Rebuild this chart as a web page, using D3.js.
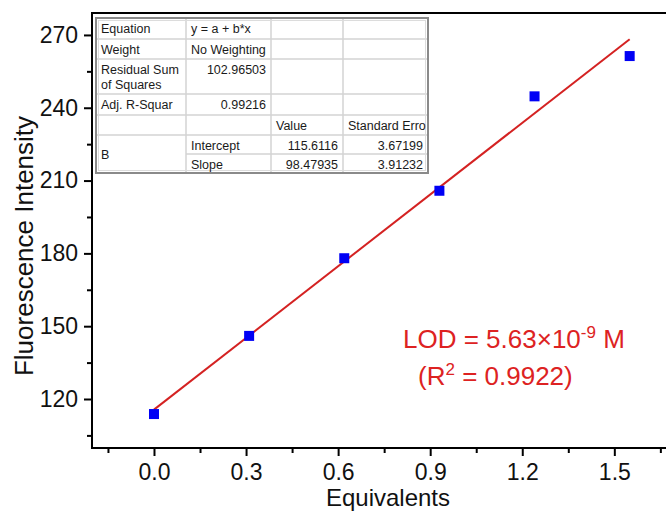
<!DOCTYPE html>
<html>
<head>
<meta charset="utf-8">
<script src="https://cdn.jsdelivr.net/npm/d3@7"></script>
<style>
  html, body { margin: 0; padding: 0; background: #fff; }
  svg { display: block; font-family: "Liberation Sans", Arial, sans-serif; }
</style>
</head>
<body>
<svg id="chart" width="666" height="514"></svg>
<script>
// ---- data ----
const xValues = [0, 0.31, 0.62, 0.93, 1.24, 1.55];
const yValues = [113.8, 146.0, 178.0, 205.8, 244.7, 261.3];
const fitIntercept = 115.6116;
const fitSlope = 98.47935;
const xTickValues = [0.0, 0.3, 0.6, 0.9, 1.2, 1.5];
const xMinorTicks = [-0.15, 0.15, 0.45, 0.75, 1.05, 1.35, 1.65];
const yTickValues = [120, 150, 180, 210, 240, 270];
const yMinorTicks = [105, 135, 165, 195, 225, 255];
const xTitle = "Equivalents";
const yTitle = "Fluorescence Intensity";
const tableRows = [
  ["Equation", "y = a + b*x", "", ""],
  ["Weight", "No Weighting", "", ""],
  ["Residual Sum|of Squares", "102.96503", "", ""],
  ["Adj. R-Squar", "0.99216", "", ""],
  ["", "", "Value", "Standard Erro"],
  ["B", "Intercept", "115.6116", "3.67199"],
  ["", "Slope", "98.47935", "3.91232"]
];

const svg = d3.select("#chart");
const L = 92, R = 680, T = 13, B = 448;
const x = d3.scaleLinear().domain([-0.202, 1.714]).range([L, R]);
const y = d3.scaleLinear().domain([99.81, 279.04]).range([B, T]);

// minor ticks
svg.append("g").attr("transform", `translate(0,${B})`)
  .call(d3.axisBottom(x).tickValues(xMinorTicks).tickSize(5).tickFormat(""))
  .call(g => g.select(".domain").remove())
  .selectAll("line").attr("stroke", "#000").attr("stroke-width", 2);
svg.append("g").attr("transform", `translate(${L},0)`)
  .call(d3.axisLeft(y).tickValues(yMinorTicks).tickSize(5).tickFormat(""))
  .call(g => g.select(".domain").remove())
  .selectAll("line").attr("stroke", "#000").attr("stroke-width", 2);

// major axes
const gx = svg.append("g").attr("transform", `translate(0,${B})`)
  .call(d3.axisBottom(x).tickValues(xTickValues).tickSize(8).tickPadding(8).tickFormat(d3.format(".1f")));
gx.select(".domain").remove();
gx.selectAll("line").attr("stroke", "#000").attr("stroke-width", 2);
gx.selectAll("text").attr("font-size", 23).attr("fill", "#111").attr("font-family", "Liberation Sans, Arial, sans-serif");

const gy = svg.append("g").attr("transform", `translate(${L},0)`)
  .call(d3.axisLeft(y).tickValues(yTickValues).tickSize(8).tickPadding(6));
gy.select(".domain").remove();
gy.selectAll("line").attr("stroke", "#000").attr("stroke-width", 2);
gy.selectAll("text").attr("font-size", 23).attr("fill", "#111").attr("font-family", "Liberation Sans, Arial, sans-serif");

// frame
svg.append("rect").attr("x", L).attr("y", T).attr("width", R - L).attr("height", B - T)
  .attr("fill", "none").attr("stroke", "#000").attr("stroke-width", 2);

// titles
svg.append("text").attr("x", 388).attr("y", 506).attr("text-anchor", "middle")
  .attr("font-size", 24).attr("fill", "#111").text(xTitle);
svg.append("text").attr("transform", "translate(33,246) rotate(-90)").attr("text-anchor", "middle")
  .attr("font-size", 26).attr("fill", "#111").text(yTitle);

// fit line
const x0 = d3.min(xValues), x1 = d3.max(xValues);
svg.append("line")
  .attr("x1", x(x0)).attr("y1", y(fitIntercept + fitSlope * x0))
  .attr("x2", x(x1)).attr("y2", y(fitIntercept + fitSlope * x1))
  .attr("stroke", "#d42222").attr("stroke-width", 2);

// points
const pts = xValues.map((v, i) => [v, yValues[i]]);
svg.selectAll("rect.pt").data(pts).enter().append("rect").attr("class", "pt")
  .attr("x", d => x(d[0]) - 5).attr("y", d => y(d[1]) - 5)
  .attr("width", 10).attr("height", 10).attr("fill", "#0000f5");

// table
const colX = [96, 186, 271, 343, 428];
const rowY = [18, 39, 59, 94, 115, 135, 154, 173];
const tg = svg.append("g").attr("font-size", 12.5).attr("fill", "#1a1a1a");
tg.append("rect").attr("x", colX[0]).attr("y", rowY[0]).attr("width", colX[4] - colX[0]).attr("height", rowY[7] - rowY[0])
  .attr("fill", "#fff");
for (let i = 1; i < rowY.length - 1; i++) {
  const startX = (i === 6) ? colX[1] : colX[0];
  tg.append("line").attr("x1", startX).attr("x2", colX[4]).attr("y1", rowY[i]).attr("y2", rowY[i])
    .attr("stroke", "#d3d3d3").attr("stroke-width", 1.5);
}
for (let j = 1; j < colX.length - 1; j++) {
  tg.append("line").attr("x1", colX[j]).attr("x2", colX[j]).attr("y1", rowY[0]).attr("y2", rowY[7])
    .attr("stroke", "#d3d3d3").attr("stroke-width", 1.5);
}
tg.append("rect").attr("x", colX[0]).attr("y", rowY[0]).attr("width", colX[4] - colX[0]).attr("height", rowY[7] - rowY[0])
  .attr("fill", "none").attr("stroke", "#8a8a8a").attr("stroke-width", 2);
tg.append("rect").attr("x", colX[0] + 2.5).attr("y", rowY[0] + 2.5).attr("width", colX[4] - colX[0] - 5).attr("height", rowY[7] - rowY[0] - 5)
  .attr("fill", "none").attr("stroke", "#dcdcdc").attr("stroke-width", 1);

tableRows.forEach((row, r) => {
  row.forEach((cell, c) => {
    if (!cell) return;
    const isNum = /^[0-9.]+$/.test(cell);
    let top = rowY[r], bottom = rowY[r + 1];
    if (r === 5 && c === 0) bottom = rowY[7];
    let baseline = top + 15;
    if (r === 5 && c === 0) baseline = (top + bottom) / 2 + 5;
    const lines = cell.split("|");
    lines.forEach((ln, k) => {
      tg.append("text")
        .attr("x", isNum ? colX[c + 1] - 5 : colX[c] + 5)
        .attr("y", baseline + k * 14.5)
        .attr("text-anchor", isNum ? "end" : "start")
        .text(ln);
    });
  });
});

// annotation
const red = "#dd2222";
const t1 = svg.append("text").attr("x", 403).attr("y", 348).attr("font-size", 26).attr("fill", red);
t1.append("tspan").text("LOD = 5.63\u00d710");
t1.append("tspan").attr("font-size", 17).attr("dy", -10).text("-9");
t1.append("tspan").attr("dy", 10).text(" M");
const t2 = svg.append("text").attr("x", 418).attr("y", 385).attr("font-size", 26).attr("fill", red);
t2.append("tspan").text("(R");
t2.append("tspan").attr("font-size", 17).attr("dy", -10).text("2");
t2.append("tspan").attr("dy", 10).text(" = 0.9922)");
</script>
</body>
</html>
